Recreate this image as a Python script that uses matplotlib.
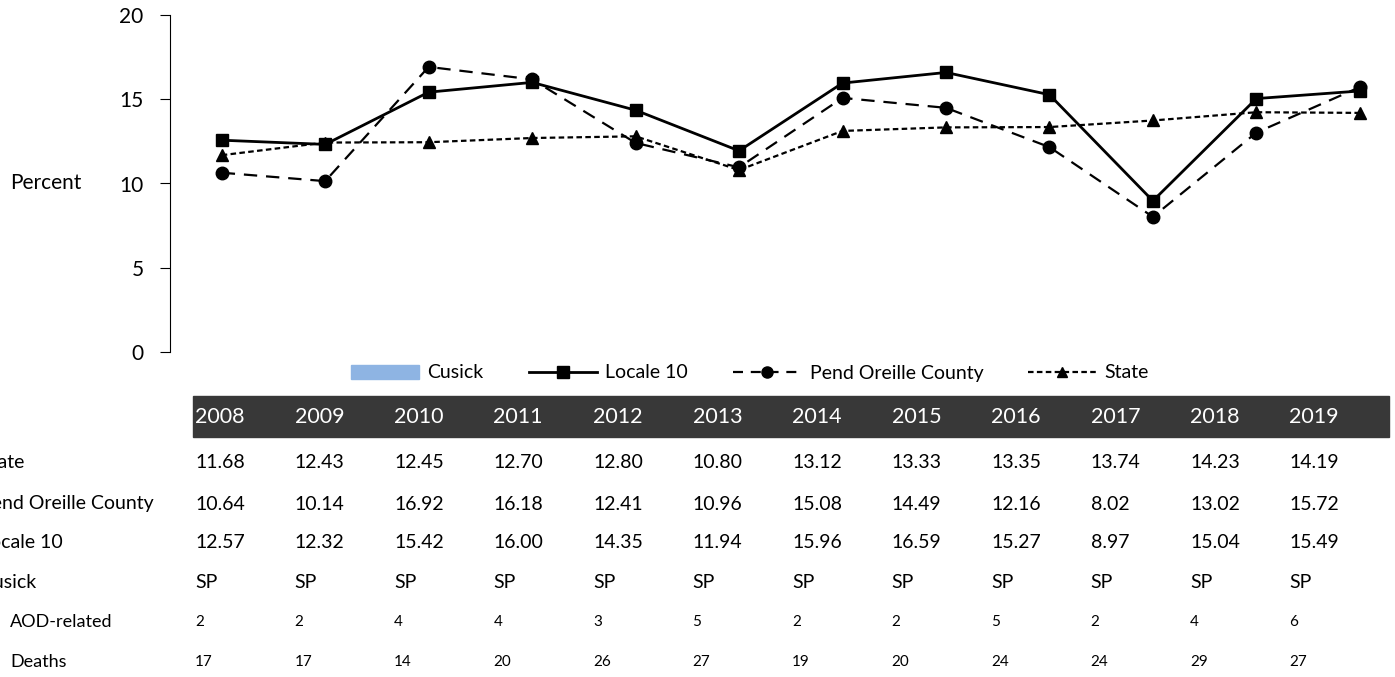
import matplotlib
matplotlib.use("Agg")
from matplotlib import pyplot as plt
from matplotlib.patches import Patch, Rectangle
from matplotlib.lines import Line2D
import numpy as np

plt.rcParams['font.family'] = ['Lato', 'DejaVu Sans']

years = ['2008', '2009', '2010', '2011', '2012', '2013',
         '2014', '2015', '2016', '2017', '2018', '2019']
state = [11.68, 12.43, 12.45, 12.70, 12.80, 10.80,
         13.12, 13.33, 13.35, 13.74, 14.23, 14.19]
pend_oreille = [10.64, 10.14, 16.92, 16.18, 12.41, 10.96,
                15.08, 14.49, 12.16, 8.02, 13.02, 15.72]
locale10 = [12.57, 12.32, 15.42, 16.00, 14.35, 11.94,
            15.96, 16.59, 15.27, 8.97, 15.04, 15.49]
cusick = ['SP'] * 12
aod_related = [2, 2, 4, 4, 3, 5, 2, 2, 5, 2, 4, 6]
deaths = [17, 17, 14, 20, 26, 27, 19, 20, 24, 24, 29, 27]

W, H = 1395, 677
fig = plt.figure(figsize=(W / 100, H / 100), dpi=100)
ax = fig.add_axes([170 / W, 1 - 352 / H, 1 - 170 / W, (352 - 15) / H])

x = np.arange(len(years))
ax.plot(x, locale10, color='black', lw=2, marker='s', ms=9, label='Locale 10')
ax.plot(x, pend_oreille, color='black', lw=1.6, ls=(0, (6, 4)), marker='o', ms=9,
        label='Pend Oreille County')
ax.plot(x, state, color='black', lw=1.6, ls=(0, (2.5, 1.5)), marker='^', ms=9,
        label='State')

ax.set_xlim(-0.5, 11.34)
ax.set_ylim(0, 20)
ax.set_yticks([0, 5, 10, 15, 20])
ax.tick_params(axis='y', labelsize=15, length=7, pad=12)
ax.set_xticks([])
for s in ['top', 'right', 'bottom']:
    ax.spines[s].set_visible(False)
fig.text(10 / W, 1 - 183 / H, 'Percent', fontsize=15, va='center', ha='left')

handles = [Patch(color='#8EB4E3', label='Cusick'),
           Line2D([], [], color='black', lw=2, marker='s', ms=8),
           Line2D([], [], color='black', lw=1.6, ls=(0, (4.5, 3.5)), marker='o', ms=8),
           Line2D([], [], color='black', lw=1.6, ls=(0, (2.5, 1.5)), marker='^', ms=7)]
labels = ['Cusick', 'Locale 10', 'Pend Oreille County', 'State']
fig.legend(handles, labels, loc='center', bbox_to_anchor=(750 / W, 1 - 373 / H),
           ncol=4, frameon=False, fontsize=14, handlelength=3.5, handleheight=0.7,
           columnspacing=2.3, handletextpad=0.45)

# data table under the chart
fig.patches.append(Rectangle((193 / W, 1 - 437 / H), (1389 - 193) / W, 41 / H,
                             transform=fig.transFigure, color='#383838'))
col_x = [(195 + i * 99.5) / W for i in range(len(years))]
for cx, yr in zip(col_x, years):
    fig.text(cx, 1 - 417 / H, yr, color='white', fontsize=15.5, va='center')

rows = [('State', state, 463, -20, '{:.2f}'),
        ('Pend Oreille County', pend_oreille, 504, -20, '{:.2f}'),
        ('Locale 10', locale10, 543, -20, '{:.2f}'),
        ('Cusick', cusick, 582, -20, '{}'),
        ('AOD-related', aod_related, 622, 10, '{}'),
        ('Deaths', deaths, 662, 10, '{}')]
for name, vals, yy, lx, fmt in rows:
    main = lx < 0
    fig.text(lx / W, 1 - yy / H, name, fontsize=14 if main else 13, va='center')
    for cx, v in zip(col_x, vals):
        fig.text(cx, 1 - yy / H, fmt.format(v), fontsize=14 if main else 11,
                 va='center')

fig.savefig('out.png', dpi=100)
